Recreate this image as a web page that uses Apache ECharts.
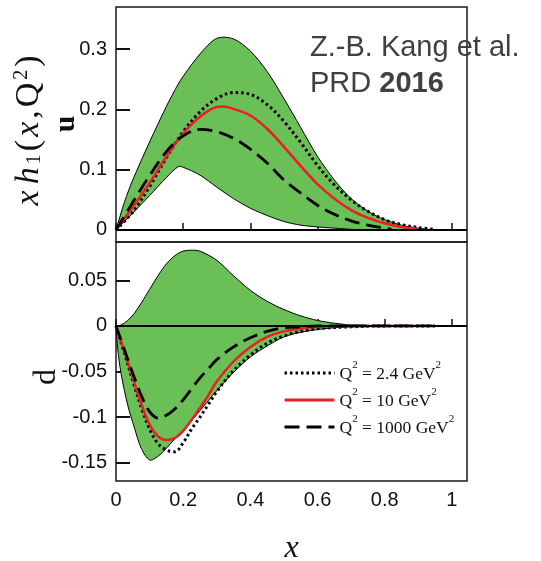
<!DOCTYPE html>
<html>
<head>
<meta charset="utf-8">
<script src="https://cdn.jsdelivr.net/npm/echarts@6/dist/echarts.min.js"></script>
<style>
  html, body { margin: 0; padding: 0; background: #fff; }
  #chart { width: 541px; height: 561px; }
</style>
</head>
<body>
<div id="chart"></div>
<script>
// Tick positions
const xTicks = [0, 0.2, 0.4, 0.6, 0.8, 1];
const uTicks = [0, 0.1, 0.2, 0.3];
const dTicks = [-0.15, -0.1, -0.05, 0, 0.05];
const q2Values = ['2.4', '10', '1000'];

// u quark: uncertainty band (upper / lower edges on a shared x grid)
const uBandX  = [0, 0.025, 0.05, 0.1, 0.15, 0.185, 0.2, 0.25, 0.3, 0.35, 0.4, 0.45, 0.5, 0.55, 0.6, 0.65, 0.7, 0.75, 0.8, 0.85, 0.9, 0.95];
const uBandHi = [0, 0.046, 0.083, 0.146, 0.205, 0.242, 0.255, 0.292, 0.318, 0.317, 0.297, 0.263, 0.218, 0.17, 0.122, 0.083, 0.052, 0.031, 0.017, 0.008, 0.003, 0];
const uBandLo = [0, 0.014, 0.028, 0.057, 0.087, 0.105, 0.104, 0.091, 0.071, 0.052, 0.036, 0.024, 0.014, 0.008, 0.005, 0.003, 0.001, 0, 0, 0, 0, 0];

// u quark: central curves at three scales
const uX24   = [0, 0.05, 0.1, 0.15, 0.2, 0.25, 0.3, 0.35, 0.4, 0.45, 0.5, 0.55, 0.6, 0.65, 0.7, 0.75, 0.8, 0.85, 0.9, 0.95];
const uY24   = [0, 0.03, 0.072, 0.12, 0.163, 0.196, 0.218, 0.228, 0.225, 0.208, 0.18, 0.145, 0.107, 0.075, 0.05, 0.031, 0.017, 0.009, 0.004, 0.001];
const uX10   = [0, 0.05, 0.1, 0.15, 0.2, 0.25, 0.3, 0.32, 0.35, 0.4, 0.45, 0.5, 0.55, 0.6, 0.65, 0.7, 0.75, 0.8, 0.85, 0.9];
const uY10   = [0, 0.038, 0.078, 0.122, 0.16, 0.188, 0.204, 0.205, 0.201, 0.19, 0.168, 0.138, 0.106, 0.076, 0.052, 0.033, 0.02, 0.011, 0.005, 0.002];
const uX1000 = [0, 0.05, 0.1, 0.15, 0.2, 0.25, 0.3, 0.35, 0.4, 0.45, 0.5, 0.55, 0.6, 0.65, 0.7, 0.75, 0.8, 0.82];
const uY1000 = [0, 0.046, 0.09, 0.13, 0.156, 0.167, 0.163, 0.152, 0.134, 0.111, 0.083, 0.061, 0.041, 0.026, 0.015, 0.008, 0.003, 0.001];

// d quark: uncertainty band
const dBandX  = [0, 0.005, 0.015, 0.035, 0.055, 0.075, 0.1, 0.125, 0.15, 0.175, 0.2, 0.225, 0.25, 0.3, 0.35, 0.4, 0.45, 0.5, 0.55, 0.6, 0.65, 0.7, 0.75];
const dBandHi = [0, 0.0001, 0.001, 0.006, 0.014, 0.025, 0.04, 0.055, 0.068, 0.077, 0.082, 0.083, 0.082, 0.072, 0.055, 0.039, 0.027, 0.018, 0.011, 0.006, 0.003, 0.001, 0];
const dBandLo = [0, -0.025, -0.052, -0.087, -0.112, -0.134, -0.147, -0.143, -0.134, -0.124, -0.115, -0.104, -0.093, -0.071, -0.051, -0.034, -0.022, -0.012, -0.007, -0.004, -0.002, -0.001, 0];

// d quark: central curves at three scales
const dX24   = [0, 0.025, 0.05, 0.075, 0.1, 0.125, 0.15, 0.175, 0.2, 0.225, 0.25, 0.275, 0.3, 0.35, 0.4, 0.45, 0.5, 0.55, 0.6, 0.7, 0.8, 0.95];
const dY24   = [0, -0.03, -0.06, -0.089, -0.113, -0.129, -0.136, -0.138, -0.128, -0.113, -0.1, -0.086, -0.072, -0.049, -0.032, -0.019, -0.011, -0.006, -0.003, -0.001, 0, 0];
const dX10   = [0, 0.025, 0.05, 0.075, 0.1, 0.125, 0.15, 0.175, 0.2, 0.225, 0.25, 0.275, 0.3, 0.35, 0.4, 0.45, 0.5, 0.55, 0.6, 0.7, 0.9];
const dY10   = [0, -0.028, -0.057, -0.085, -0.108, -0.121, -0.125, -0.123, -0.115, -0.103, -0.09, -0.076, -0.061, -0.039, -0.023, -0.012, -0.006, -0.003, -0.001, 0, 0];
const dX1000 = [0, 0.025, 0.05, 0.075, 0.1, 0.125, 0.15, 0.175, 0.2, 0.225, 0.25, 0.275, 0.3, 0.35, 0.4, 0.45, 0.5, 0.55, 0.6, 0.95];
const dY1000 = [0, -0.026, -0.052, -0.076, -0.094, -0.101, -0.098, -0.091, -0.081, -0.069, -0.057, -0.047, -0.037, -0.023, -0.013, -0.006, -0.002, -0.001, 0, 0];

const zip = (xs, ys) => xs.map((x, i) => [x, ys[i]]);

const GREEN = '#6abf57';
const RED = '#ee1c25';
const names = q2Values.map(q => 'Q2 = ' + q + ' GeV2');
const lineStyles = [
  { color: '#000', width: 3, type: [2.5, 3], cap: 'butt' },
  { color: RED, width: 2.5, type: 'solid' },
  { color: '#000', width: 2.8, type: [15, 7], cap: 'butt' }
];
const sans = '"Liberation Sans", Arial, sans-serif';
const serif = '"Liberation Serif", "Times New Roman", serif';

// Filled uncertainty band: closed outline, upper edge forward, lower edge back
function bandSeries(idx, xs, hi, lo) {
  return {
    type: 'custom', xAxisIndex: idx, yAxisIndex: idx, silent: true, z: 1,
    data: xs.map((x, i) => [x, lo[i], hi[i]]),
    encode: { x: 0, y: [1, 2] },
    renderItem: function (params, api) {
      if (params.dataIndexInside !== 0) return null;
      const top = xs.map((x, i) => api.coord([x, hi[i]]));
      const bot = xs.map((x, i) => api.coord([x, lo[i]])).reverse();
      return {
        type: 'polygon',
        shape: { points: top.concat(bot), smooth: 0.3 },
        style: { fill: GREEN, stroke: '#000', lineWidth: 1 }
      };
    }
  };
}

function curveSeries(idx, k, xs, ys, withZero) {
  const s = {
    type: 'line', name: names[k], xAxisIndex: idx, yAxisIndex: idx,
    data: zip(xs, ys), symbol: 'none', smooth: 0.35, silent: true, z: 3,
    lineStyle: lineStyles[k]
  };
  if (withZero) {
    s.markLine = {
      silent: true, symbol: 'none', label: { show: false },
      lineStyle: { color: '#000', width: 2.2, type: 'solid' },
      data: [{ yAxis: 0 }]
    };
  }
  return s;
}

function xAxisDef(idx, showLabels) {
  return {
    type: 'value', gridIndex: idx, min: 0, max: 1.045,
    axisLine: { show: false },
    splitLine: { show: false },
    axisTick: { show: true, inside: true, length: 7, customValues: xTicks, lineStyle: { color: '#111', width: 1.5 } },
    axisLabel: {
      show: showLabels, customValues: xTicks, margin: 9,
      fontFamily: sans, fontSize: 20, color: '#111'
    },
    name: showLabels ? 'x' : '', nameLocation: 'middle', nameGap: 52,
    nameTextStyle: { fontFamily: serif, fontStyle: 'italic', fontSize: 32, color: '#111' }
  };
}

function yAxisDef(idx, min, max, ticks) {
  return {
    type: 'value', gridIndex: idx, min: min, max: max,
    axisLine: { show: false },
    splitLine: { show: false },
    axisTick: { show: true, inside: true, length: 14, customValues: ticks, lineStyle: { color: '#111', width: 2 } },
    axisLabel: {
      customValues: ticks, margin: 9,
      fontFamily: sans, fontSize: 20, color: '#111'
    }
  };
}

const chart = echarts.init(document.getElementById('chart'), null, { renderer: 'canvas' });

const tok = (extra) => Object.assign({ fontFamily: serif, fontSize: 34, fill: '#111', padding: [0, 3, 0, 0] }, extra);

const option = {
  animation: false,
  backgroundColor: '#fff',
  grid: [
    { left: 116, top: 7, width: 351, height: 235, show: true, borderColor: '#1a1a1a', borderWidth: 1.5, outerBoundsMode: 'none' },
    { left: 116, top: 242, width: 351, height: 239, show: true, borderColor: '#1a1a1a', borderWidth: 1.5, outerBoundsMode: 'none' }
  ],
  xAxis: [xAxisDef(0, false), xAxisDef(1, true)],
  yAxis: [yAxisDef(0, -0.02, 0.37, uTicks), yAxisDef(1, -0.17, 0.092, dTicks)],
  legend: {
    data: names, orient: 'vertical', left: 278, top: 355,
    itemWidth: 50, itemHeight: 14, itemGap: 4,
    selectedMode: false,
    itemStyle: { opacity: 0 },
    lineStyle: { width: 3 },
    formatter: function (name) {
      const q = name.split(' ')[2];
      return '{t|Q}{s|2}{t| = ' + q + ' GeV}{s|2}';
    },
    textStyle: {
      fontFamily: serif, fontSize: 17.5, color: '#111',
      rich: {
        t: { fontFamily: serif, fontSize: 17.5, color: '#111', lineHeight: 20, verticalAlign: 'bottom' },
        s: { fontFamily: serif, fontSize: 11, color: '#111', lineHeight: 20, verticalAlign: 'top', padding: [-3, 0, 0, 0] }
      }
    }
  },
  graphic: [
    {
      type: 'text', x: 29, y: 129, rotation: Math.PI / 2, z: 10,
      style: {
        text: '{i|x} {i|h}{sub|1}{n|(}{i|x}{n|,}{n|Q}{sup|2}{n|)}',
        align: 'center', verticalAlign: 'middle',
        rich: {
          i: tok({ fontStyle: 'italic' }),
          n: tok({}),
          sub: tok({ fontSize: 20, padding: [12, 3, 0, 0] }),
          sup: tok({ fontSize: 20, padding: [0, 3, 14, 0] })
        }
      }
    },
    {
      type: 'text', x: 66, y: 124, rotation: Math.PI / 2, z: 10,
      style: { text: 'u', font: 'bold 30px "Liberation Serif", serif', fill: '#111', align: 'center', verticalAlign: 'middle' }
    },
    {
      type: 'text', x: 47, y: 377, rotation: Math.PI / 2, z: 10,
      style: { text: 'd', font: '32px "Liberation Serif", serif', fill: '#111', align: 'center', verticalAlign: 'middle' }
    },
    {
      type: 'text', x: 310, y: 48, z: 10,
      style: { text: 'Z.-B. Kang et al.', font: '29px "Liberation Sans", Arial, sans-serif', fill: '#404040', align: 'left', verticalAlign: 'middle' }
    },
    {
      type: 'text', x: 310, y: 84, z: 10,
      style: {
        text: '{r|PRD }{b|2016}', align: 'left', verticalAlign: 'middle',
        rich: {
          r: { font: '29px "Liberation Sans", Arial, sans-serif', fill: '#404040' },
          b: { font: 'bold 29px "Liberation Sans", Arial, sans-serif', fill: '#404040' }
        }
      }
    }
  ],
  series: [
    bandSeries(0, uBandX, uBandHi, uBandLo),
    curveSeries(0, 0, uX24, uY24, false),
    curveSeries(0, 1, uX10, uY10, true),
    curveSeries(0, 2, uX1000, uY1000, false),
    bandSeries(1, dBandX, dBandHi, dBandLo),
    curveSeries(1, 0, dX24, dY24, false),
    curveSeries(1, 1, dX10, dY10, true),
    curveSeries(1, 2, dX1000, dY1000, false)
  ]
};

chart.setOption(option);
</script>
</body>
</html>
